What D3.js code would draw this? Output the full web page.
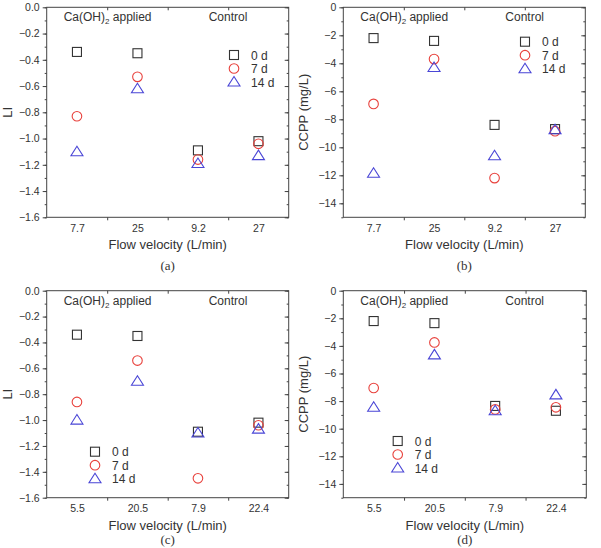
<!DOCTYPE html>
<html>
<head>
<meta charset="utf-8">
<script src="https://cdn.jsdelivr.net/npm/d3@7"></script>
<style>
  body { margin: 0; background: #fff; }
  svg text { font-family: Arial, "Liberation Sans", sans-serif; fill: #333; }
  .panelLabel { font-family: "Times New Roman", "Liberation Serif", serif; }
</style>
</head>
<body>
<div id="chart"></div>
<script>
// categories (flow velocity, L/min)
var catsTop = ["7.7", "25", "9.2", "27"];
var catsBottom = ["5.5", "20.5", "7.9", "22.4"];
var seriesNames = ["0 d", "7 d", "14 d"];

// (a) LI
var liA_0 = [-0.34, -0.35, -1.09, -1.02];
var liA_7 = [-0.83, -0.53, -1.16, -1.04];
var liA_14 = [-1.10, -0.62, -1.19, -1.13];

// (b) CCPP
var ccppB_0 = [-2.2, -2.4, -8.4, -8.7];
var ccppB_7 = [-6.9, -3.7, -12.2, -8.85];
var ccppB_14 = [-11.85, -4.3, -10.6, -8.75];

// (c) LI
var liC_0 = [-0.34, -0.35, -1.09, -1.02];
var liC_7 = [-0.86, -0.54, -1.45, -1.04];
var liC_14 = [-1.00, -0.70, -1.10, -1.07];

// (d) CCPP
var ccppD_0 = [-2.2, -2.35, -8.35, -8.7];
var ccppD_7 = [-7.05, -3.75, -8.6, -8.45];
var ccppD_14 = [-8.45, -4.65, -8.7, -7.55];

var liTicks = [0, -0.2, -0.4, -0.6, -0.8, -1.0, -1.2, -1.4, -1.6];
var ccppTicks = [0, -2, -4, -6, -8, -10, -12, -14];

var colors = ["#333333", "#e8413c", "#4a46d6"];

var svg = d3.select("#chart").append("svg")
  .attr("width", 601)
  .attr("height", 548);

var panels = [
  {x: 46.7, y: 7.3, w: 242, h: 210, cats: catsTop, data: [liA_0, liA_7, liA_14],
   domain: [-1.6, 0], ticks: liTicks, minor: 0.1, fmt: d3.format(".1f"), ytitle: "LI",
   legend: [234, 55], label: "(a)", labelDy: 53},
  {x: 343.3, y: 7.3, w: 242, h: 210, cats: catsTop, data: [ccppB_0, ccppB_7, ccppB_14],
   domain: [-15, 0], ticks: ccppTicks, minor: 1, fmt: d3.format("d"), ytitle: "CCPP (mg/L)",
   legend: [525, 41.7], label: "(b)", labelDy: 53},
  {x: 46.7, y: 290.7, w: 242, h: 207, cats: catsBottom, data: [liC_0, liC_7, liC_14],
   domain: [-1.6, 0], ticks: liTicks, minor: 0.1, fmt: d3.format(".1f"), ytitle: "LI",
   legend: [95, 451.7], label: "(c)", labelDy: 46.5},
  {x: 343.3, y: 290.7, w: 243, h: 207, cats: catsBottom, data: [ccppD_0, ccppD_7, ccppD_14],
   domain: [-15, 0], ticks: ccppTicks, minor: 1, fmt: d3.format("d"), ytitle: "CCPP (mg/L)",
   legend: [397.7, 441], label: "(d)", labelDy: 46.5}
];

//draws a marker symbol for series i at (cx, cy)
function marker(g, i, cx, cy) {
  if (i === 0) {
    g.append("rect").attr("x", cx - 4.5).attr("y", cy - 4.5)
      .attr("width", 9).attr("height", 9)
      .attr("fill", "none").attr("stroke", colors[0]).attr("stroke-width", 1.1);
  } else if (i === 1) {
    g.append("circle").attr("cx", cx).attr("cy", cy).attr("r", 4.8)
      .attr("fill", "none").attr("stroke", colors[1]).attr("stroke-width", 1.1);
  } else {
    g.append("path")
      .attr("d", "M" + cx + "," + (cy - 5.5) + "L" + (cx + 6) + "," + (cy + 4) + "L" + (cx - 6) + "," + (cy + 4) + "Z")
      .attr("fill", "none").attr("stroke", colors[2]).attr("stroke-width", 1.1);
  }
}

panels.forEach(function (p) {
  var g = svg.append("g").attr("transform", "translate(" + p.x + "," + p.y + ")");

  var xScale = d3.scaleLinear().domain([0.5, 4.5]).range([0, p.w]);
  var yScale = d3.scaleLinear().domain(p.domain).range([p.h, 0]);

  var minorTicks = d3.range(p.domain[0], p.domain[1] + p.minor / 2, p.minor);
  var xMinor = [1.5, 2.5, 3.5];

  // left axis: labels + outward ticks
  var left = g.append("g").call(d3.axisLeft(yScale).tickValues(p.ticks).tickFormat(p.fmt).tickSize(4).tickPadding(3));
  left.select(".domain").remove();
  g.append("g").call(d3.axisLeft(yScale).tickValues(minorTicks).tickFormat("").tickSize(2))
    .select(".domain").remove();

  // right axis: inward ticks
  var right = g.append("g").attr("transform", "translate(" + p.w + ",0)");
  right.call(d3.axisLeft(yScale).tickValues(p.ticks).tickFormat("").tickSize(4)).select(".domain").remove();
  right.append("g").call(d3.axisLeft(yScale).tickValues(minorTicks).tickFormat("").tickSize(2)).select(".domain").remove();

  // bottom axis
  var bottom = g.append("g").attr("transform", "translate(0," + p.h + ")");
  bottom.call(d3.axisBottom(xScale).tickValues([1, 2, 3, 4]).tickFormat(function (d) { return p.cats[d - 1]; })
    .tickSize(0).tickPadding(7)).select(".domain").remove();
  bottom.append("g").call(d3.axisBottom(xScale).tickValues(xMinor).tickFormat("").tickSize(3))
    .select(".domain").remove();

  // top axis inward
  g.append("g").call(d3.axisBottom(xScale).tickValues(xMinor).tickFormat("").tickSize(3))
    .select(".domain").remove();

  g.selectAll(".tick line").attr("stroke", "#444");
  g.selectAll(".tick text").attr("font-size", 10.5).style("fill", "#333");

  // frame
  g.append("rect").attr("width", p.w).attr("height", p.h)
    .attr("fill", "none").attr("stroke", "#444").attr("stroke-width", 1);

  // group labels
  var ca = g.append("text").attr("x", 17).attr("y", 14).attr("font-size", 12);
  ca.append("tspan").text("Ca(OH)");
  ca.append("tspan").text("2").attr("font-size", 8).attr("dy", 3);
  ca.append("tspan").text(" applied").attr("dy", -3);
  g.append("text").attr("x", 162).attr("y", 14).attr("font-size", 12).text("Control");

  // points
  p.data.forEach(function (vals, i) {
    vals.forEach(function (v, j) {
      marker(g, i, xScale(j + 1), yScale(v));
    });
  });

  // axis titles
  g.append("text").attr("x", p.w / 2).attr("y", p.h + 32)
    .attr("text-anchor", "middle").attr("font-size", 13).text("Flow velocity (L/min)");
  g.append("text")
    .attr("transform", "translate(" + (-35) + "," + (p.h / 2) + ") rotate(-90)")
    .attr("text-anchor", "middle").attr("font-size", 13).text(p.ytitle);

  g.append("text").attr("class", "panelLabel").attr("x", p.w / 2).attr("y", p.h + p.labelDy)
    .attr("text-anchor", "middle").attr("font-size", 13).text(p.label);

  // legend
  var lg = svg.append("g");
  seriesNames.forEach(function (name, i) {
    var ly = p.legend[1] + i * 13.5;
    marker(lg, i, p.legend[0], ly);
    lg.append("text").attr("x", p.legend[0] + 17).attr("y", ly + 4.5)
      .attr("font-size", 12).text(name);
  });
});
</script>
</body>
</html>
